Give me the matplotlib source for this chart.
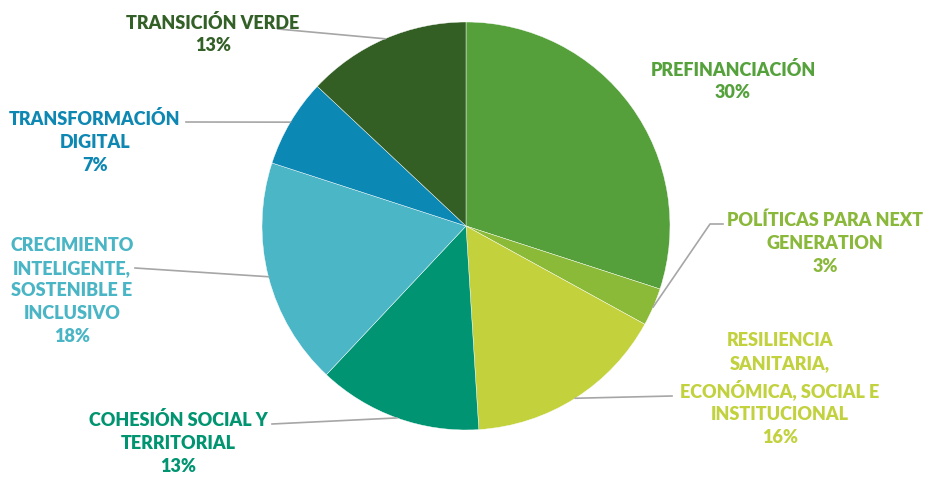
import numpy as np
import matplotlib.pyplot as plt

labels = ["PREFINANCIACIÓN", "POLÍTICAS PARA NEXT\nGENERATION",
          "RESILIENCIA\nSANITARIA,\nECONÓMICA, SOCIAL E\nINSTITUCIONAL",
          "COHESIÓN SOCIAL Y\nTERRITORIAL",
          "CRECIMIENTO\nINTELIGENTE,\nSOSTENIBLE E\nINCLUSIVO",
          "TRANSFORMACIÓN\nDIGITAL", "TRANSICIÓN VERDE"]
values = [30, 3, 16, 13, 18, 7, 13]
colors = ["#55a03a", "#8bba38", "#c3d13c", "#009472", "#4ab6c6", "#0b88b4", "#335f24"]
text_colors = ["#55a13b", "#8ab83a", "#c2d13e", "#009470", "#4ab5c5", "#0e88b3", "#336026"]

# label placement (pixel coords, y down), leader end and optional elbow
label_pos = [(733, 81), (825, 243), (780, 389), (178, 443), (72, 291), (95, 142), (213, 34)]
leader_end = [None, (723, 224), (672, 396), (272, 424), (135, 268), (186, 122), (278, 29)]
elbow = [None, (710, 224), None, None, None, None, None]

W, H = 927, 478
cx, cy, r = 466, 226, 204

fig = plt.figure(figsize=(9.27, 4.78), dpi=100)
ax = fig.add_axes([0, 0, 1, 1])
ax.pie(values, colors=colors, startangle=90, counterclock=False,
       center=(cx, H - cy), radius=r,
       wedgeprops=dict(edgecolor="white", linewidth=0.3))
ax.set_xlim(0, W)
ax.set_ylim(0, H)
ax.set_aspect("equal")
ax.axis("off")

total = sum(values)
cum = np.cumsum([0] + values)
for i, lab in enumerate(labels):
    mid = (cum[i] + cum[i + 1]) / 2 / total * 2 * np.pi  # clockwise from top
    ex = cx + r * np.sin(mid)
    ey = cy - r * np.cos(mid)
    if leader_end[i] is not None:
        pts = [(ex, ey)]
        if elbow[i] is not None:
            pts.append(elbow[i])
        pts.append(leader_end[i])
        xs = [p[0] for p in pts]
        ys = [H - p[1] for p in pts]
        ax.plot(xs, ys, color="#a6a6a6", lw=1.2)
    pct = f"{values[i]}%"
    lx, ly = label_pos[i]
    ax.text(lx, H - ly, lab + "\n" + pct, ha="center", va="center",
            color=text_colors[i], fontsize=13, fontweight="heavy",
            family=["Lato", "DejaVu Sans"], linespacing=1.42)

fig.savefig("out.png", dpi=100)
